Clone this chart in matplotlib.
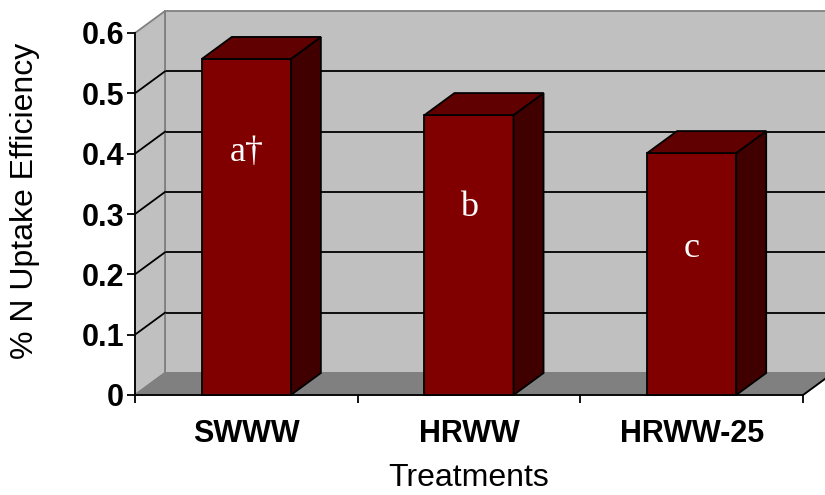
import numpy as np
import matplotlib.pyplot as plt
from matplotlib.ticker import FixedLocator

treatments = ["SWWW", "HRWW", "HRWW-25"]
efficiency = [0.557, 0.464, 0.401]
letters = ["a\u2020", "b", "c"]
letter_y = [0.402, 0.311, 0.242]
yticks = [0, 0.1, 0.2, 0.3, 0.4, 0.5, 0.6]

plt.rcParams['font.family'] = ['Liberation Sans', 'DejaVu Sans']

fig = plt.figure(figsize=(8.25, 4.95), dpi=100)
ax = fig.add_axes([135 / 825, 100 / 495, 668 / 825, 362 / 495])
ax.set_xlim(0, 3)
ax.set_ylim(0, 0.6)

# depth offset of the 3d box (data units)
dx = 30 / 668 * 3
dy = 22 / 362 * 0.6
top = 0.6
n = len(treatments)
gray = "#808080"

# back wall, side wall, floor
ax.fill([dx, n + dx, n + dx, dx], [dy, dy, top + dy, top + dy],
        color="#c0c0c0", ec=gray, lw=1.3, clip_on=False, zorder=0)
ax.fill([0, dx, dx, 0], [0, dy, top + dy, top],
        color="#c0c0c0", ec=gray, lw=1.3, clip_on=False, zorder=0.5)
ax.fill([0, n, n + dx, dx], [0, 0, dy, dy],
        color=gray, ec=gray, lw=1.3, clip_on=False, zorder=0.6)
ax.plot([n, n + dx], [0, dy], color="black", lw=1.3, clip_on=False, zorder=0.7)

for v in yticks[1:-1]:
    ax.plot([dx, n + dx], [v + dy, v + dy], color="black", lw=1.3,
            clip_on=False, zorder=0.4)
    ax.plot([0, dx], [v, v + dy], color="black", lw=1.3,
            clip_on=False, zorder=0.55)

# bars
w = 0.4
for i, v in enumerate(efficiency):
    x0 = i + 0.5 - w / 2
    x1 = x0 + w
    ax.fill([x0, x1, x1, x0], [0, 0, v, v], color="#800000", ec="black",
            lw=1.3, clip_on=False, zorder=2)
    ax.fill([x1, x1 + dx, x1 + dx, x1], [0, dy, v + dy, v], color="#400000",
            ec="black", lw=1.3, clip_on=False, zorder=2)
    ax.fill([x0, x1, x1 + dx, x0 + dx], [v, v, v + dy, v + dy], color="#600000",
            ec="black", lw=1.3, clip_on=False, zorder=2)
    ax.text(i + 0.5, letter_y[i], letters[i], color="white", ha="center",
            va="center", fontsize=26, family=["Liberation Serif", "DejaVu Serif"],
            zorder=3)

for s in ["top", "right"]:
    ax.spines[s].set_visible(False)
for s in ["left", "bottom"]:
    ax.spines[s].set_linewidth(1.3)
    ax.spines[s].set_zorder(1)

ax.set_yticks(yticks)
ax.set_yticklabels([f"{t:g}" for t in yticks], fontsize=22, fontweight="bold")
ax.tick_params(axis="y", length=6, width=1.3, pad=2)

ax.set_xticks(np.arange(n) + 0.5)
ax.set_xticklabels(treatments, fontsize=22, fontweight="bold")
ax.xaxis.set_minor_locator(FixedLocator(np.arange(n + 1)))
ax.tick_params(axis="x", which="major", length=0, pad=17)
ax.tick_params(axis="x", which="minor", length=6, width=1.3)

ax.set_xlabel("Treatments", fontsize=23, labelpad=10)
ax.set_ylabel("% N Uptake Efficiency", fontsize=23, labelpad=30)
ax.yaxis.label.set_y(0.536)

fig.savefig("out.png", dpi=100)
